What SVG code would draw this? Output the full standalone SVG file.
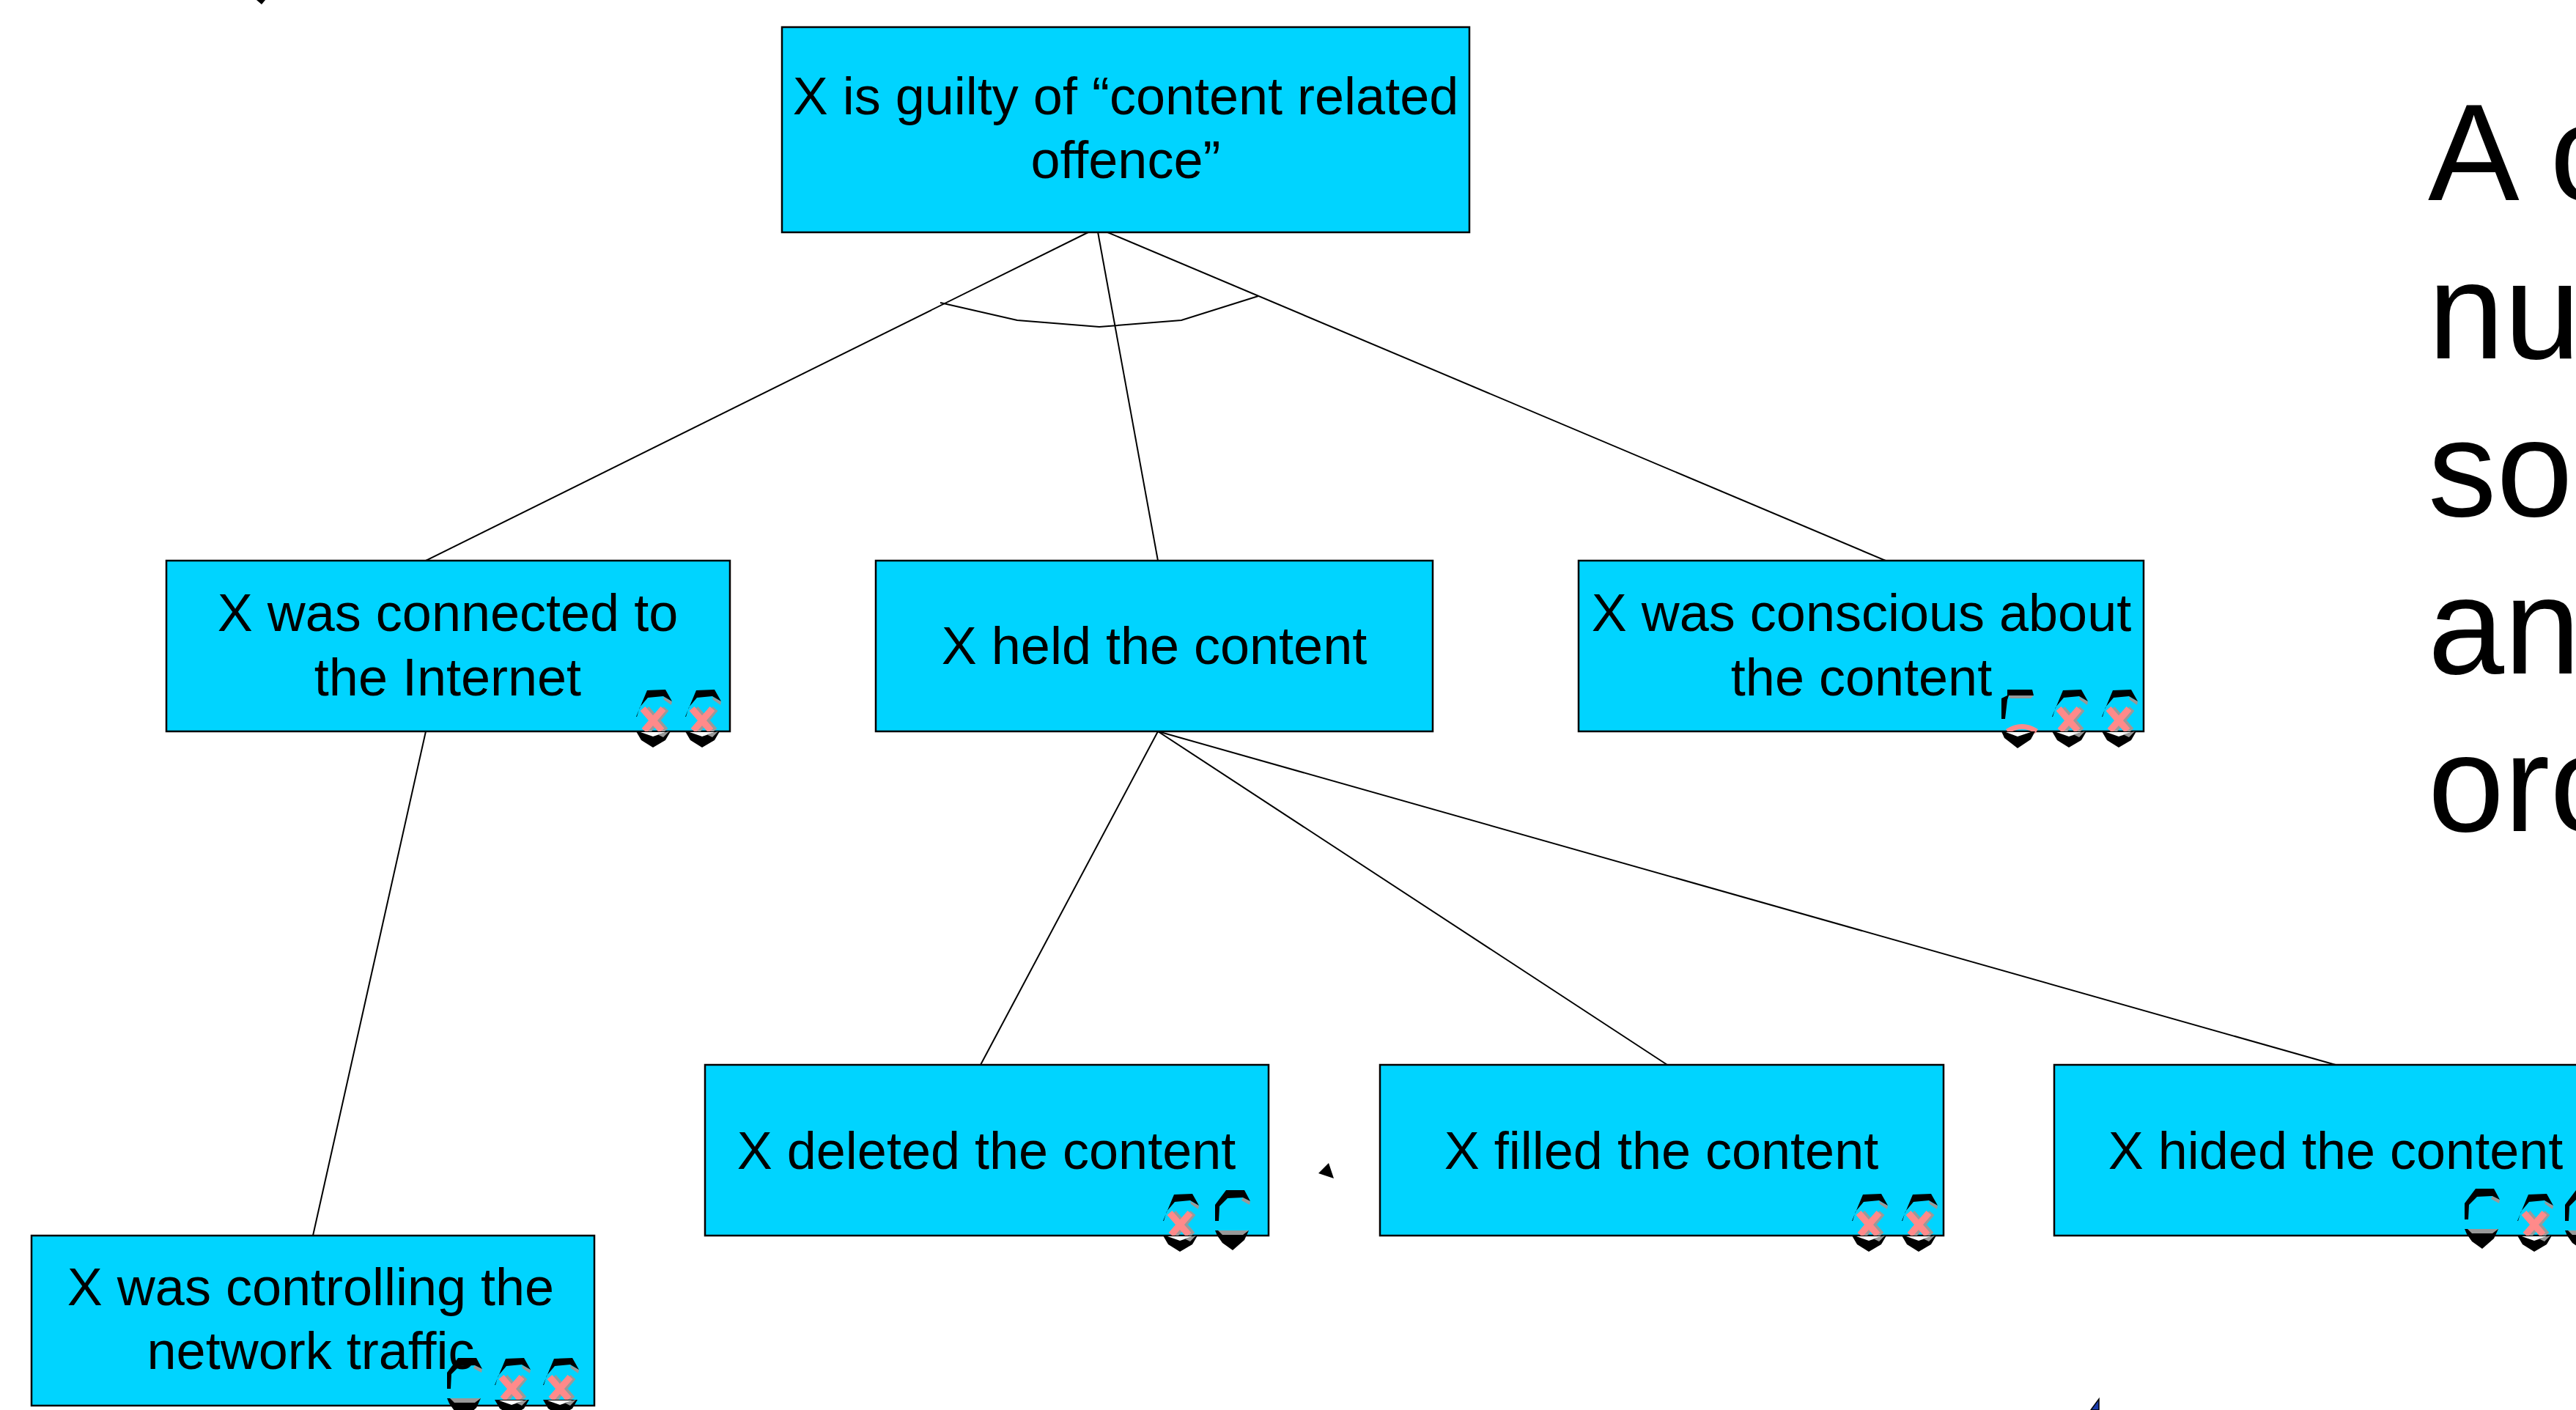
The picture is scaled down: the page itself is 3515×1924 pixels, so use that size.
<svg xmlns="http://www.w3.org/2000/svg" xmlns:xlink="http://www.w3.org/1999/xlink" width="3515" height="1924" viewBox="0 0 3515 1924">
<style>
.box{fill:#00d4ff;stroke:#000;stroke-width:2.5}
.t{font-family:"Liberation Sans",Arial,sans-serif;font-size:72px;fill:#000;text-anchor:middle}
.big{font-family:"Liberation Sans",Arial,sans-serif;font-size:187px;fill:#000}
.blk{fill:#000}
.gry{fill:#999}
</style>
<defs>
<g id="icoX">
<polygon class="gry" points="38,10 50,16 49,21 39,14"/>
<polygon class="blk" points="1,37 16,1 41,0 50,16 38,9 17,11 6,24 2,37"/>
<path d="M15,26 L41,56 M42,26 L17,56" stroke="#999" stroke-width="9" fill="none"/>
<path d="M10,26 L36,56 M38,26 L12,56" stroke="#ff8a8a" stroke-width="9" fill="none"/>
<polygon class="blk" points="1,57 48,57 41,69 24,79 8,69"/>
<polygon fill="#fff" points="7,58 42,58 24,64"/>
<polygon class="gry" points="30,61 46,57 38,65"/>
</g>
<g id="icoC">
<polygon class="gry" points="38,10 48,15 47,20 36,14"/>
<polygon class="blk" points="0,42 0,20 15,0 40,0 48,15 38,10 17,11 6,22 5,42"/>
<polygon class="blk" points="0,55 46,55 40,68 24,82 10,72 3,62"/>
<polygon class="gry" points="4,55 46,55 38,61 10,61"/>
</g>
<g id="icoF">
<polygon class="blk" points="0,40 0,12 8,8 8,0 42,0 44,8 10,8 8,14 5,40"/>
<polygon class="gry" points="10,8 44,8 40,12 12,12"/>
<path d="M8,57 Q28,44 48,57" stroke="#ff8a8a" stroke-width="7" fill="none"/>
<polygon class="blk" points="0,57 46,57 40,68 22,80 4,66"/>
<polygon fill="#fff" points="6,58 40,58 22,64"/>
</g>
</defs>
<rect width="3515" height="1924" fill="#fff"/>

<g id="connectors" stroke="#000" stroke-width="2" fill="none">
<line x1="1497" y1="311" x2="581" y2="765"/>
<line x1="1497" y1="311" x2="1580" y2="765"/>
<line x1="1497" y1="311" x2="2573" y2="765"/>
<polyline points="1283,413 1388,437 1500,446 1612,437 1717,404"/>
<line x1="581" y1="998" x2="427" y2="1686"/>
<line x1="1580" y1="998" x2="1338" y2="1453"/>
<line x1="1580" y1="998" x2="2275" y2="1453"/>
<line x1="1580" y1="998" x2="3187" y2="1453"/>
</g>

<g id="node-guilty">
<rect class="box" x="1067" y="37" width="938" height="280"/>
<text class="t" x="1536" y="156">X is guilty of “content related</text>
<text class="t" x="1536" y="243">offence”</text>
</g>

<g id="node-connected">
<rect class="box" x="227" y="765" width="769" height="233"/>
<text class="t" x="611" y="861">X was connected to</text>
<text class="t" x="611" y="949">the Internet</text>
<use xlink:href="#icoX" x="867" y="941"/>
<use xlink:href="#icoX" x="934" y="941"/>
</g>

<g id="node-held">
<rect class="box" x="1195" y="765" width="760" height="233"/>
<text class="t" x="1575" y="906">X held the content</text>
</g>

<g id="node-conscious">
<rect class="box" x="2154" y="765" width="771" height="233"/>
<text class="t" x="2540" y="861">X was conscious about</text>
<text class="t" x="2540" y="949">the content</text>
<use xlink:href="#icoF" x="2731" y="941"/>
<use xlink:href="#icoX" x="2799" y="941"/>
<use xlink:href="#icoX" x="2867" y="941"/>
</g>

<g id="node-deleted">
<rect class="box" x="962" y="1453" width="769" height="233"/>
<text class="t" x="1346" y="1595">X deleted the content</text>
<use xlink:href="#icoX" x="1586" y="1629"/>
<use xlink:href="#icoC" x="1658" y="1624"/>
</g>

<g id="node-filled">
<rect class="box" x="1883" y="1453" width="769" height="233"/>
<text class="t" x="2267" y="1595">X filled the content</text>
<use xlink:href="#icoX" x="2526" y="1629"/>
<use xlink:href="#icoX" x="2594" y="1629"/>
</g>

<g id="node-hided">
<rect class="box" x="2803" y="1453" width="769" height="233"/>
<text class="t" x="3187" y="1595">X hided the content</text>
<use xlink:href="#icoC" x="3363" y="1622"/>
<use xlink:href="#icoX" x="3434" y="1629"/>
<use xlink:href="#icoC" x="3500" y="1624"/>
</g>

<g id="node-controlling">
<rect class="box" x="43" y="1686" width="768" height="232"/>
<text class="t" x="424" y="1781">X was controlling the</text>
<text class="t" x="424" y="1868">network traffic</text>
<use xlink:href="#icoC" x="610" y="1853"/>
<use xlink:href="#icoX" x="674" y="1853"/>
<use xlink:href="#icoX" x="740" y="1853"/>
</g>

<g id="side-text">
<text class="big" x="3313" y="273">A c</text>
<text class="big" x="3313" y="489">nu</text>
<text class="big" x="3313" y="704">so</text>
<text class="big" x="3313" y="919">an</text>
<text class="big" x="3313" y="1134">orc</text>
</g>

<g id="marks">
<polygon class="blk" points="350,0 362,0 357,6"/>
<polygon class="blk" points="1799,1601 1813,1587 1820,1608"/>
<polygon fill="#1a3aa8" stroke="#000" stroke-width="1.5" points="2853,1924 2864,1909 2864,1924"/>
</g>
</svg>
